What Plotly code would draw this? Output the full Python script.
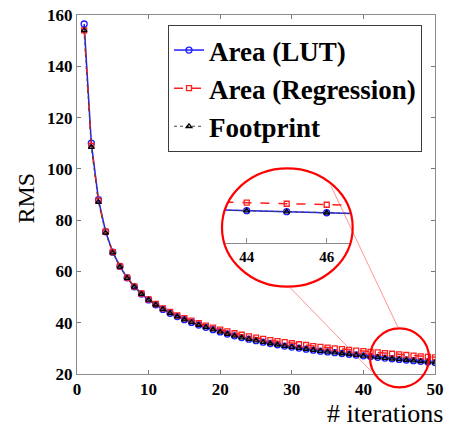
import plotly.graph_objects as go

# ---------------- data ----------------
iterations = list(range(1, 51))
area_lut = [156.5, 110, 88, 75.5, 67.5, 62, 57.5, 54, 51.2, 48.9,
            47, 45.2, 43.7, 42.4, 41.2, 40.1, 39.1, 38.2, 37.3, 36.4,
            35.6, 34.9, 34.2, 33.6, 33.0, 32.4, 31.9, 31.4, 30.9, 30.5,
            30.1, 29.7, 29.3, 28.9, 28.6, 28.3, 28.0, 27.7, 27.4, 27.1,
            26.8, 26.5, 26.2, 25.95, 25.7, 25.45, 25.2, 24.95, 24.7, 24.45]
area_reg = [154, 109, 87.5, 75.5, 67.5, 62, 57.6, 54.2, 51.4, 49.1,
            47.3, 45.6, 44.2, 42.9, 41.8, 40.8, 39.8, 38.9, 38.1, 37.3,
            36.6, 35.9, 35.3, 34.7, 34.2, 33.7, 33.2, 32.8, 32.4, 32.0,
            31.6, 31.3, 30.9, 30.6, 30.3, 30.0, 29.7, 29.4, 29.15, 28.9,
            28.65, 28.4, 28.15, 27.9, 27.65, 27.4, 27.15, 26.9, 26.7, 26.5]
footprint = [154, 108.5, 87, 75, 67.3, 61.8, 57.4, 54, 51.2, 48.9,
             47, 45.2, 43.7, 42.4, 41.2, 40.1, 39.1, 38.2, 37.3, 36.4,
             35.6, 34.9, 34.2, 33.6, 33.0, 32.4, 31.9, 31.4, 30.9, 30.5,
             30.1, 29.7, 29.3, 28.9, 28.6, 28.3, 28.0, 27.7, 27.4, 27.1,
             26.8, 26.5, 26.2, 25.95, 25.7, 25.45, 25.2, 24.95, 24.7, 24.45]
series_names = ["Area (LUT)", "Area (Regression)", "Footprint"]
x_ticks = [0, 10, 20, 30, 40, 50]
y_ticks = [20, 40, 60, 80, 100, 120, 140, 160]
inset_ticks = [44, 46]

# ---------------- layout geometry ----------------
W, H = 451, 429
L, R, T, B = 77, 435, 15, 374


def px(x):
    return (x - L) / (R - L)


def py(y):
    return (B - y) / (B - T)


FONT = "Liberation Serif, Times New Roman, serif"
BLUE = "rgb(30,30,255)"
RED = "rgb(255,30,30)"
GREY = "rgb(70,70,70)"

styles = [
    dict(line=dict(color=BLUE, width=1.5, dash="solid"),
         marker=dict(symbol="circle-open", size=6, color=BLUE, line=dict(width=1.3))),
    dict(line=dict(color=RED, width=1.5, dash="dash"),
         marker=dict(symbol="square-open", size=5, color=RED, line=dict(width=1.3))),
    dict(line=dict(color=GREY, width=1.2, dash="dot"),
         marker=dict(symbol="triangle-up-open", size=5, color="black", line=dict(width=1.3))),
]
data = [area_lut, area_reg, footprint]

fig = go.Figure()
for name, ys, st in zip(series_names, data, styles):
    fig.add_trace(go.Scatter(x=iterations, y=ys, name=name, mode="lines+markers",
                             line=st["line"], marker=st["marker"],
                             xaxis="x", yaxis="y"))
for name, ys, st in zip(series_names, data, styles):
    fig.add_trace(go.Scatter(x=iterations, y=ys, name=name, mode="lines+markers",
                             line=st["line"], marker=st["marker"],
                             xaxis="x2", yaxis="y2", showlegend=False))

# inset geometry (pixels)
ex0, ex1, ey0, ey1 = 222, 352.7, 168.3, 286.7
cx, cy = (ex0 + ex1) / 2, (ey0 + ey1) / 2
rx, ry = (ex1 - ex0) / 2, (ey1 - ey0) / 2
inset_axis_y = 243.3
px_per_unit_x = 40.0
px_per_unit_y = 4.1
inset_x_range = [44 - (246.7 - ex0) / px_per_unit_x, 46 + (ex1 - 326.7) / px_per_unit_x]
y_bottom = 25.95 - (inset_axis_y - 210.7) / px_per_unit_y
inset_y_range = [y_bottom, y_bottom + (inset_axis_y - ey0) / px_per_unit_y]

axis_common = dict(showline=True, linecolor="rgb(140,140,140)", linewidth=1,
                   ticks="inside", ticklen=4, tickcolor="rgb(120,120,120)",
                   showgrid=False, zeroline=False, mirror="ticks",
                   tickfont=dict(family=FONT, size=17, color="black", weight="bold"))

fig.update_layout(
    width=W, height=H,
    margin=dict(l=L, r=W - R, t=T, b=H - B, autoexpand=False),
    paper_bgcolor="white", plot_bgcolor="white",
    xaxis=dict(range=[0, 50], tickvals=x_ticks, domain=[0, 1], **axis_common),
    yaxis=dict(range=[20, 160], tickvals=y_ticks, domain=[0, 1], **axis_common),
    xaxis2=dict(range=inset_x_range, tickvals=inset_ticks, anchor="y2",
                domain=[px(ex0), px(ex1)], showline=True,
                linecolor="rgb(140,140,140)", linewidth=1, ticks="inside",
                ticklen=5, tickcolor="rgb(140,140,140)", showgrid=False,
                zeroline=False,
                tickfont=dict(family=FONT, size=15, color="black", weight="bold")),
    yaxis2=dict(range=inset_y_range, anchor="x2",
                domain=[py(inset_axis_y), py(ey0)], visible=False),
    showlegend=True,
    legend=dict(x=px(168), y=py(25), xanchor="left", yanchor="top",
                bgcolor="white", bordercolor="rgb(60,60,60)", borderwidth=1,
                font=dict(family=FONT, size=27, color="black", weight="bold"),
                tracegroupgap=0, itemwidth=30),
)

# mask: rectangle with elliptical hole, built from Bezier curves
k = 0.5523
pcx, pcy = px(cx), py(cy)
prx, pry = rx / (R - L), ry / (B - T)
pad_x, pad_y = 2 / (R - L), 2 / (B - T)
rect = (f"M {px(ex0)-pad_x},{py(ey0)+pad_y} L {px(ex1)+pad_x},{py(ey0)+pad_y} "
        f"L {px(ex1)+pad_x},{py(ey1)-pad_y} L {px(ex0)-pad_x},{py(ey1)-pad_y} Z")
ell = (f" M {pcx+prx},{pcy} "
       f"C {pcx+prx},{pcy+k*pry} {pcx+k*prx},{pcy+pry} {pcx},{pcy+pry} "
       f"C {pcx-k*prx},{pcy+pry} {pcx-prx},{pcy+k*pry} {pcx-prx},{pcy} "
       f"C {pcx-prx},{pcy-k*pry} {pcx-k*prx},{pcy-pry} {pcx},{pcy-pry} "
       f"C {pcx+k*prx},{pcy-pry} {pcx+prx},{pcy-k*pry} {pcx+prx},{pcy} Z")
fig.add_shape(type="path", path=rect + ell, xref="paper", yref="paper",
              fillcolor="white", fillrule="evenodd", line=dict(width=0), layer="above")

# connector lines
fig.add_shape(type="line", xref="paper", yref="paper",
              x0=px(331), y0=py(186), x1=px(398), y1=py(327.5),
              line=dict(color="rgba(255,60,60,0.55)", width=1), layer="above")
fig.add_shape(type="line", xref="paper", yref="paper",
              x0=px(290), y0=py(287.5), x1=px(371.5), y1=py(371.5),
              line=dict(color="rgba(255,60,60,0.55)", width=1), layer="above")

# big circle
fig.add_shape(type="circle", xref="paper", yref="paper",
              x0=px(ex0), x1=px(ex1), y0=py(ey1), y1=py(ey0),
              line=dict(color="rgb(255,0,0)", width=2.2), layer="above")
# small circle
fig.add_shape(type="circle", xref="paper", yref="paper",
              x0=px(370), x1=px(429), y0=py(387.3), y1=py(328.3),
              line=dict(color="rgb(255,0,0)", width=2.2), layer="above")

# axis titles
fig.add_annotation(text="RMS", xref="paper", yref="paper", x=px(25), y=py(197.5),
                   textangle=-90, showarrow=False, xanchor="center", yanchor="middle",
                   font=dict(family=FONT, size=24, color="black"))
fig.add_annotation(text="# iterations", xref="paper", yref="paper", x=px(444), y=py(429),
                   showarrow=False, xanchor="right", yanchor="bottom", borderpad=0,
                   font=dict(family=FONT, size=26, color="black"))

fig.write_html("out.html", config={"displayModeBar": False},
               post_script="document.body.style.margin='0';document.body.style.overflow='hidden';")
